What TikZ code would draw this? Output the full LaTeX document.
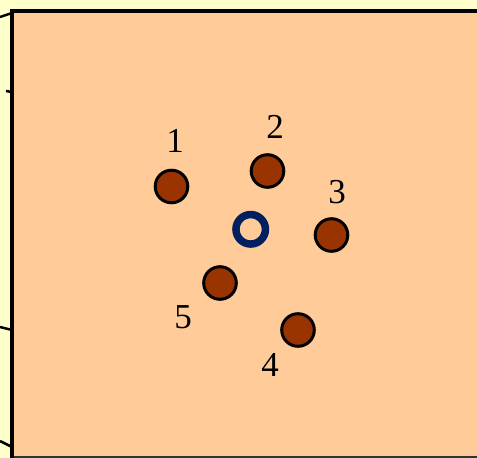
\documentclass[tikz,border=0pt]{standalone}
\usepackage{fontspec}
\setmainfont{Liberation Serif}
\definecolor{outerbg}{HTML}{FFFFCC}
\definecolor{innerbg}{HTML}{FFCC99}
\definecolor{dotfill}{HTML}{993300}
\definecolor{ringcol}{HTML}{002060}
\begin{document}
\begin{tikzpicture}[x=1pt,y=-1pt,
  dot/.style={draw=black,line width=3pt,fill=dotfill},
  ring/.style={draw=ringcol,line width=7.5pt},
  lbl/.style={font=\fontsize{35}{40}\selectfont,inner sep=0pt}]
\fill[outerbg] (0,0) rectangle (477,458);
\useasboundingbox (0,0) rectangle (477,458);
\fill[innerbg] (12,11) rectangle (480,457);
\draw[line width=1.2pt,black!80] (12,457) -- (480,457);
\draw[line width=4pt] (480,11) -- (12,11) -- (12,458);
% left tick fragments
\draw[line width=2.5pt] (0,17) -- (12,13);
\draw[line width=2.5pt] (6,91) -- (12,92);
\draw[line width=2.5pt] (0,327) -- (12,330);
\draw[line width=2.5pt] (0,441) -- (12,447);
% points
\coordinate (p1) at (171.5,186.5);
\coordinate (p2) at (267.5,171);
\coordinate (p3) at (331.5,235);
\coordinate (p4) at (298,330);
\coordinate (p5) at (220,283);
\coordinate (c) at (250.7,229.3);
\foreach \p in {p1,p2,p3,p4,p5} \draw[dot] (\p) circle (16.3);
\draw[ring] (c) circle (14.75);
% labels
\node[lbl] (l1) at (175,141) {1};
\node[lbl] (l2) at (275,127) {2};
\node[lbl] (l3) at (337,192) {3};
\node[lbl] (l4) at (270,365) {4};
\node[lbl] (l5) at (183,317) {5};
\end{tikzpicture}
\end{document}
